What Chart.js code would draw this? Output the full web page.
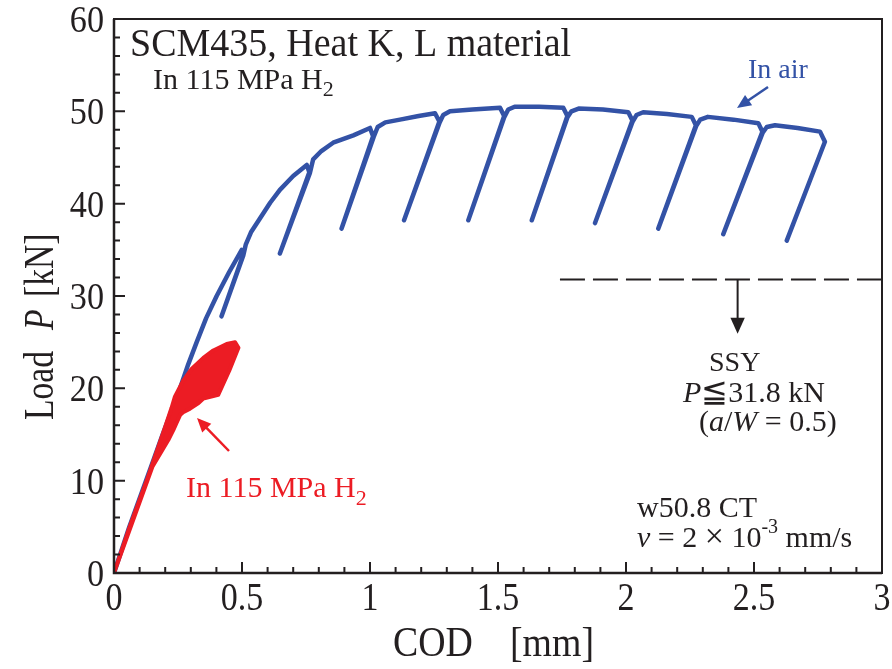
<!DOCTYPE html>
<html>
<head>
<meta charset="utf-8">
<script src="https://cdn.jsdelivr.net/npm/chart.js@4.4.1/dist/chart.umd.min.js"></script>
<style>
  body { margin: 0; background: #fff; }
  canvas { display: block; }
</style>
</head>
<body>
<canvas id="chart" width="892" height="669"></canvas>
<script>
// in air: load / partial unload cycles
const airCOD = [0, 0.06, 0.125, 0.19, 0.258, 0.29, 0.323, 0.36, 0.401, 0.45, 0.499, 0.505, 0.42, 0.505, 0.515, 0.535, 0.57, 0.61, 0.648, 0.70, 0.753,
  0.763, 0.648, 0.765, 0.778, 0.81, 0.856, 0.935, 1.0,
  1.012, 0.889, 1.014, 1.03, 1.06, 1.117, 1.19, 1.254,
  1.271, 1.133, 1.272, 1.286, 1.3125, 1.40, 1.508,
  1.524, 1.384, 1.525, 1.54, 1.565, 1.66, 1.755,
  1.771, 1.632, 1.772, 1.787, 1.815, 1.91, 2.009,
  2.025, 1.879, 2.026, 2.041, 2.067, 2.16, 2.257,
  2.273, 2.126, 2.274, 2.29, 2.32, 2.42, 2.517,
  2.533, 2.38, 2.534, 2.55, 2.582, 2.67, 2.758, 2.777, 2.628];
const airLoad = [0, 5, 10, 15, 20, 22.6, 25, 27.6, 30, 32.6, 35.0, 34.5, 27.8, 34.4, 35.6, 36.9, 38.4, 40.1, 41.5, 43.0, 44.2,
  43.4, 34.6, 43.3, 44.8, 45.7, 46.6, 47.4, 48.2,
  47.3, 37.3, 47.2, 48.3, 48.8, 49.1, 49.5, 49.8,
  48.9, 38.2, 48.8, 49.6, 50.0, 50.2, 50.4,
  49.5, 38.2, 49.4, 50.2, 50.5, 50.5, 50.4,
  49.5, 38.2, 49.4, 50.0, 50.3, 50.2, 49.9,
  49.0, 37.9, 48.9, 49.6, 49.9, 49.7, 49.4,
  48.5, 37.3, 48.4, 49.1, 49.4, 49.1, 48.7,
  47.8, 36.7, 47.7, 48.3, 48.5, 48.2, 47.8, 46.7, 36.0];

// in 115 MPa H2: outline of the dense cyclic band
const h2COD = [0, 0.06, 0.13, 0.19, 0.225, 0.238, 0.27, 0.303, 0.349, 0.388, 0.44, 0.473, 0.486, 0.45, 0.407,
  0.38, 0.349, 0.33, 0.297, 0.27, 0.258, 0.245, 0.232, 0.212, 0.15, 0.06, 0];
const h2Load = [0, 4.9, 10.2, 15.0, 17.9, 19.1, 20.8, 22.1, 23.3, 24.1, 24.8, 25.0, 24.4, 21.9, 19.3,
  19.1, 18.9, 18.4, 17.8, 17.4, 17.1, 16.3, 15.5, 14.4, 11.5, 4.6, 0];

// small scale yielding limit
const ssyCOD = [1.742, 3.0];
const ssyLoad = [31.8, 31.8];

const xTicks = [0, 0.5, 1, 1.5, 2, 2.5, 3];
const yTicks = [0, 10, 20, 30, 40, 50, 60];

const BLUE = '#3352a6';
const RED = '#ec1c24';
const INK = '#231f20';
const SERIF = '"Liberation Serif", "DejaVu Serif", serif';

function pts(xs, ys) {
  return xs.map((x, i) => ({ x: x, y: ys[i] }));
}

// text squeezed horizontally by sx, like the tall narrow type of the original
function text(ctx, str, x, y, size, sx, italic) {
  ctx.save();
  ctx.font = (italic ? 'italic ' : '') + size + 'px ' + SERIF;
  ctx.translate(x, y);
  ctx.scale(sx, 1);
  ctx.fillText(str, 0, 0);
  const w = ctx.measureText(str).width * sx;
  ctx.restore();
  return w;
}

function runs(ctx, items, x, y, sx) {
  let cx = x;
  items.forEach(r => {
    cx += text(ctx, r.t, cx, y + (r.dy || 0), r.s, sx, r.i);
  });
}

function arrow(ctx, x1, y1, x2, y2, color, w, head) {
  const a = Math.atan2(y2 - y1, x2 - x1);
  const c = Math.cos(a), s = Math.sin(a);
  ctx.strokeStyle = color;
  ctx.fillStyle = color;
  ctx.lineWidth = w;
  ctx.beginPath();
  ctx.moveTo(x1, y1);
  ctx.lineTo(x2 - c * head * 0.8, y2 - s * head * 0.8);
  ctx.stroke();
  ctx.beginPath();
  ctx.moveTo(x2, y2);
  ctx.lineTo(x2 - head * c + head * 0.45 * s, y2 - head * s - head * 0.45 * c);
  ctx.lineTo(x2 - head * c - head * 0.45 * s, y2 - head * s + head * 0.45 * c);
  ctx.closePath();
  ctx.fill();
}

const extras = {
  id: 'extras',
  afterDraw(chart) {
    const ctx = chart.ctx;
    const a = chart.chartArea;
    const xs = chart.scales.x;
    const ys = chart.scales.y;
    ctx.save();

    // frame
    ctx.strokeStyle = INK;
    ctx.lineWidth = 2;
    ctx.strokeRect(a.left, a.top, a.right - a.left, a.bottom - a.top);
    ctx.lineWidth = 2.5;
    ctx.beginPath();
    ctx.moveTo(a.left, a.top);
    ctx.lineTo(a.left, a.bottom);
    ctx.lineTo(a.right, a.bottom);
    ctx.stroke();

    // inward tick marks, minor every 0.1 mm / 2 kN
    ctx.lineWidth = 2;
    ctx.beginPath();
    for (let i = 0; i <= 30; i++) {
      const px = xs.getPixelForValue(i / 10);
      const len = i % 5 === 0 ? 11 : 6;
      ctx.moveTo(px, a.bottom);
      ctx.lineTo(px, a.bottom - len);
      const py = ys.getPixelForValue(i * 2);
      ctx.moveTo(a.left, py);
      ctx.lineTo(a.left + len, py);
    }
    ctx.stroke();

    // tick labels from the scale positions
    ctx.fillStyle = INK;
    ctx.textBaseline = 'alphabetic';
    ctx.textAlign = 'center';
    xTicks.forEach(v => text(ctx, String(v), xs.getPixelForValue(v), 610, 40, 0.85));
    ctx.textAlign = 'right';
    yTicks.forEach(v => text(ctx, String(v), 104, ys.getPixelForValue(v) + 13, 38, 0.9));
    ctx.textAlign = 'left';

    // axis titles
    text(ctx, 'COD', 393, 656, 42, 0.9);
    text(ctx, '[mm]', 510, 656, 42, 0.9);

    ctx.save();
    ctx.translate(53, 420);
    ctx.rotate(-Math.PI / 2);
    text(ctx, 'Load', 0, 0, 42, 0.8);
    text(ctx, 'P', 90, 0, 42, 0.8, true);
    text(ctx, '[kN]', 123, 0, 42, 0.8);
    ctx.restore();

    // title block
    text(ctx, 'SCM435, Heat K, L material', 130, 56, 40, 0.95);
    runs(ctx, [{ t: 'In 115 MPa H', s: 30 }, { t: '2', s: 22, dy: 7 }], 153, 89, 1);

    // in air label + arrow
    ctx.fillStyle = BLUE;
    text(ctx, 'In air', 748, 78, 28, 1);
    arrow(ctx, 768, 87, 737, 108, BLUE, 2.5, 14);

    // hydrogen label + arrow
    ctx.fillStyle = RED;
    runs(ctx, [{ t: 'In 115 MPa H', s: 30 }, { t: '2', s: 22, dy: 8 }], 186, 497, 1);
    arrow(ctx, 229, 451, 197, 418, RED, 2.5, 14);

    // SSY arrow and text
    const ax = xs.getPixelForValue(2.436);
    arrow(ctx, ax, ys.getPixelForValue(31.8), ax, ys.getPixelForValue(25.9), INK, 2, 16);
    ctx.fillStyle = INK;
    text(ctx, 'SSY', 709, 371, 28, 1);
    runs(ctx, [{ t: 'P', s: 30, i: true }, { t: '≦', s: 32 }, { t: '31.8 kN', s: 30 }], 683, 402, 1);
    runs(ctx, [{ t: '(', s: 30 }, { t: 'a', s: 30, i: true }, { t: '/', s: 30 }, { t: 'W', s: 30, i: true },
      { t: ' = 0.5)', s: 30 }], 699, 431, 1);

    // specimen text
    text(ctx, 'w50.8 CT', 637, 517, 30, 1);
    runs(ctx, [{ t: 'v', s: 30, i: true }, { t: ' = 2 ', s: 30 }, { t: '×', s: 34 }, { t: ' 10', s: 30 },
      { t: '-3', s: 20, dy: -14 }, { t: ' mm/s', s: 30 }], 637, 547, 1);

    ctx.restore();
  }
};

new Chart(document.getElementById('chart'), {
  type: 'scatter',
  data: {
    datasets: [
      {
        label: 'In 115 MPa H2',
        data: pts(h2COD, h2Load),
        showLine: true,
        borderColor: RED,
        backgroundColor: RED,
        borderWidth: 4,
        fill: 'shape',
        pointRadius: 0,
        borderJoinStyle: 'round',
        order: 0
      },
      {
        label: 'In air',
        data: pts(airCOD, airLoad),
        showLine: true,
        borderColor: BLUE,
        borderWidth: 4.5,
        pointRadius: 0,
        borderJoinStyle: 'round',
        borderCapStyle: 'round',
        order: 1
      },
      {
        label: 'SSY',
        data: pts(ssyCOD, ssyLoad),
        showLine: true,
        borderColor: INK,
        borderWidth: 2,
        borderDash: [25, 8],
        pointRadius: 0,
        order: 2
      }
    ]
  },
  options: {
    responsive: false,
    animation: false,
    layout: { padding: { top: 19, right: 10, left: 0, bottom: 0 } },
    plugins: { legend: { display: false }, tooltip: { enabled: false } },
    scales: {
      x: {
        type: 'linear', min: 0, max: 3,
        grid: { display: false },
        border: { display: false },
        ticks: { display: false },
        afterFit: s => { s.height = 96; }
      },
      y: {
        min: 0, max: 60,
        grid: { display: false },
        border: { display: false },
        ticks: { display: false },
        afterFit: s => { s.width = 114; }
      }
    }
  },
  plugins: [extras]
});
</script>
</body>
</html>
